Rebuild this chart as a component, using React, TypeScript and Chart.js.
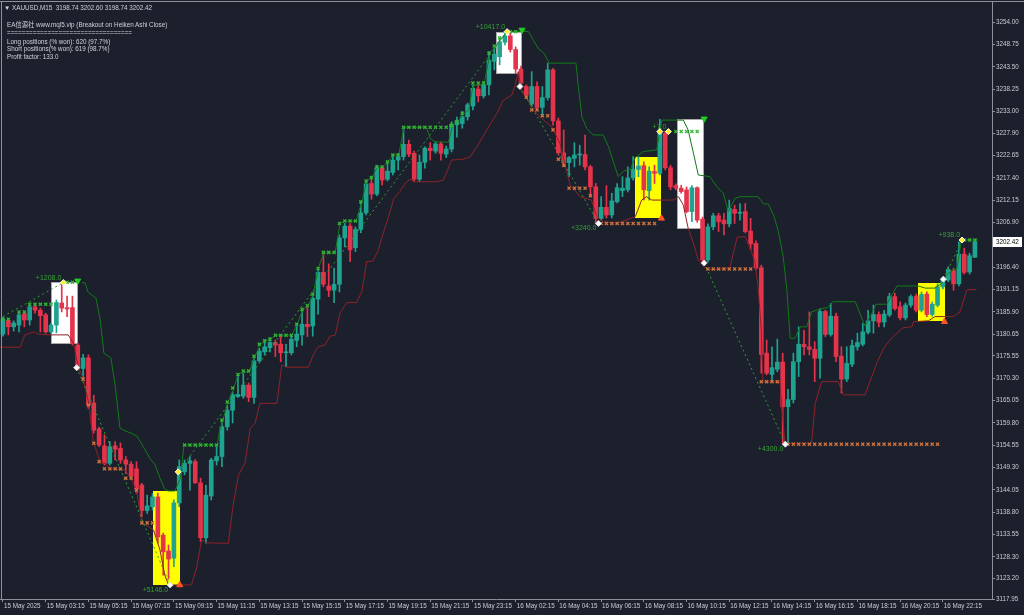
import React, { useEffect, useRef } from "react";
import { Chart, registerables } from "chart.js";
Chart.register(...registerables);

// ---------- price data (M15 bars, XAUUSD) ----------
const OPEN = [3180.7,3183.8,3182.4,3182.8,3185.4,3184.0,3187.1,3186.3,3185.2,3181.2,
 3182.8,3188.0,3186.9,3186.9,3178.1,3172.6,3175.1,3164.5,3158.4,3154.4,
 3150.3,3154.4,3153.8,3151.1,3150.1,3149.0,3145.2,3139.2,3140.1,3142.4,
 3133.4,3129.7,3128.0,3141.0,3148.3,3150.3,3150.7,3145.7,3132.8,3142.6,
 3150.9,3151.9,3158.9,3162.8,3166.0,3166.1,3168.7,3165.8,3174.4,3176.5,
 3177.5,3178.7,3178.3,3176.3,3176.3,3179.2,3180.5,3183.0,3182.6,3188.9,
 3195.2,3192.0,3191.0,3192.4,3203.3,3206.1,3201.0,3205.3,3209.2,3216.1,
 3213.6,3219.8,3217.1,3218.7,3221.6,3222.4,3225.3,3223.2,3217.1,3221.1,
 3224.4,3223.7,3225.4,3223.0,3224.2,3229.9,3230.2,3231.8,3234.3,3238.3,
 3236.7,3239.3,3244.8,3245.9,3249.3,3250.8,3247.6,3243.0,3238.9,3234.8,
 3238.9,3234.0,3236.3,3242.8,3230.8,3223.3,3221.0,3222.0,3222.8,3222.9,
 3220.0,3215.3,3207.9,3210.5,3208.7,3211.8,3214.4,3214.6,3217.4,3219.4,
 3220.3,3214.4,3218.9,3218.5,3227.9,3219.8,3215.6,3215.0,3214.6,3209.5,
 3215.1,3207.7,3198.1,3205.9,3208.5,3207.5,3206.6,3210.0,3209.1,3209.5,
 3204.9,3202.0,3196.3,3176.2,3171.2,3172.4,3174.1,3163.6,3165.3,3174.2,
 3178.3,3177.7,3177.1,3175.0,3186.0,3180.6,3184.9,3175.5,3170.1,3173.6,
 3177.7,3178.3,3181.1,3183.8,3185.3,3183.5,3185.2,3189.5,3187.1,3184.5,
 3187.5,3189.6,3186.3,3190.1,3185.3,3187.5,3191.8,3193.4,3195.6,3192.5,
 3199.5,3195.3,3198.74];
const HIGH = [3184.7,3184.2,3183.8,3185.6,3185.9,3187.5,3187.5,3186.8,3185.6,3183.3,
 3188.7,3192.8,3189.6,3189.6,3178.6,3175.9,3175.8,3166.3,3158.8,3157.0,
 3155.4,3155.4,3155.1,3151.9,3150.7,3150.7,3145.6,3142.8,3143.2,3143.3,
 3133.9,3131.1,3141.7,3151.1,3151.1,3151.9,3151.2,3146.8,3145.2,3151.5,
 3154.2,3160.5,3164.0,3167.1,3171.1,3171.5,3169.2,3175.1,3177.4,3179.3,
 3179.8,3179.3,3180.1,3178.3,3180.2,3182.8,3186.3,3187.1,3190.3,3196.2,
 3199.7,3197.2,3196.2,3204.0,3206.7,3206.7,3205.9,3211.8,3216.7,3217.7,
 3220.4,3220.2,3221.2,3222.8,3223.2,3229.1,3226.3,3223.7,3222.8,3224.7,
 3225.7,3225.9,3225.9,3224.9,3230.6,3231.7,3233.0,3235.0,3239.3,3239.3,
 3240.0,3247.1,3247.9,3250.6,3251.8,3251.4,3248.2,3243.7,3239.3,3242.4,
 3240.0,3238.9,3244.4,3243.2,3231.5,3228.7,3222.4,3225.7,3225.1,3227.5,
 3220.4,3216.1,3213.0,3215.6,3213.8,3216.1,3217.7,3220.0,3222.4,3222.4,
 3221.2,3220.0,3220.4,3231.2,3228.4,3220.4,3216.0,3215.7,3215.3,3215.6,
 3215.3,3208.2,3206.6,3209.1,3209.1,3209.1,3212.2,3211.0,3211.4,3211.4,
 3207.9,3202.6,3196.9,3179.3,3177.7,3179.5,3176.2,3167.7,3176.2,3182.4,
 3181.6,3185.9,3178.9,3186.6,3186.3,3187.9,3185.6,3177.7,3177.7,3179.3,
 3180.9,3183.2,3186.3,3187.5,3185.9,3186.3,3190.3,3190.3,3188.3,3188.0,
 3189.9,3190.1,3190.6,3190.6,3188.2,3192.5,3194.1,3196.5,3196.2,3202.4,
 3200.9,3199.7,3202.60];
const LOW = [3180.2,3180.5,3181.4,3181.2,3182.4,3182.8,3185.6,3181.2,3180.9,3180.9,
 3181.0,3185.9,3184.8,3178.1,3172.2,3170.3,3163.2,3157.4,3154.2,3149.9,
 3149.9,3151.1,3150.3,3147.9,3146.8,3143.2,3137.7,3138.5,3139.3,3131.5,
 3124.0,3123.2,3126.0,3140.1,3147.6,3144.0,3145.6,3131.9,3131.5,3141.7,
 3149.9,3149.5,3158.1,3159.8,3165.8,3165.6,3164.8,3164.4,3174.1,3175.8,
 3176.5,3175.4,3174.2,3173.0,3175.8,3177.7,3178.1,3180.1,3180.2,3185.4,
 3191.8,3189.5,3188.1,3190.6,3201.2,3197.7,3200.1,3204.5,3208.7,3212.4,
 3213.2,3215.7,3216.7,3218.1,3219.3,3221.6,3222.4,3216.5,3216.5,3219.7,
 3221.6,3223.2,3221.6,3222.2,3223.5,3227.0,3229.1,3231.0,3233.4,3235.3,
 3236.2,3236.9,3242.8,3244.0,3248.7,3247.0,3242.0,3238.9,3236.1,3234.1,
 3233.4,3231.8,3235.7,3229.8,3222.8,3220.0,3217.7,3220.0,3220.4,3219.3,
 3213.0,3206.7,3207.5,3208.0,3208.0,3211.5,3213.0,3214.1,3216.9,3217.7,
 3212.2,3212.2,3216.1,3218.1,3219.3,3214.6,3214.6,3213.8,3209.2,3207.1,
 3207.0,3197.6,3197.6,3205.2,3204.8,3204.0,3205.9,3206.7,3207.5,3204.5,
 3200.5,3195.8,3171.5,3171.1,3169.5,3171.8,3155.0,3155.1,3164.5,3170.7,
 3175.8,3175.8,3169.5,3170.3,3180.1,3180.2,3174.2,3166.8,3169.5,3173.0,
 3176.9,3177.9,3180.7,3180.9,3182.4,3182.4,3184.8,3186.3,3184.0,3184.0,
 3187.0,3185.9,3185.9,3184.8,3184.9,3187.1,3191.3,3193.0,3191.0,3192.0,
 3194.8,3194.8,3198.74];
const CLOSE = [3184.2,3182.4,3183.3,3185.2,3184.0,3187.1,3186.3,3185.0,3181.2,3182.8,
 3188.1,3186.8,3186.6,3178.5,3172.6,3175.1,3164.0,3158.1,3154.6,3150.3,
 3154.2,3153.6,3151.1,3150.1,3147.3,3144.3,3139.2,3140.3,3142.4,3133.0,
 3129.5,3127.8,3141.0,3149.5,3150.3,3150.9,3145.7,3132.8,3142.8,3151.1,
 3151.9,3158.9,3162.8,3166.4,3166.5,3168.7,3165.8,3174.4,3176.7,3177.7,
 3178.7,3178.1,3176.3,3176.4,3179.5,3180.7,3183.0,3182.4,3189.1,3195.2,
 3192.4,3191.0,3192.4,3203.3,3206.1,3200.5,3205.3,3209.2,3216.0,3213.6,
 3219.8,3216.9,3219.0,3221.6,3222.4,3225.3,3223.0,3217.1,3221.1,3224.4,
 3223.8,3225.4,3223.2,3224.2,3230.0,3230.8,3231.8,3234.6,3238.5,3236.7,
 3239.3,3245.1,3246.5,3249.4,3250.8,3247.6,3243.0,3239.7,3236.9,3238.9,
 3234.0,3236.3,3242.8,3230.8,3223.3,3221.0,3222.2,3222.8,3222.9,3220.0,
 3215.3,3207.9,3210.5,3208.7,3212.0,3215.1,3215.0,3217.4,3219.4,3220.2,
 3214.6,3219.0,3218.5,3227.9,3219.8,3215.3,3215.0,3214.2,3209.5,3215.1,
 3207.5,3198.1,3205.9,3208.5,3207.1,3206.6,3210.3,3209.1,3209.3,3204.8,
 3201.9,3196.2,3175.9,3171.5,3172.8,3174.1,3163.6,3165.3,3174.2,3178.3,
 3177.7,3177.1,3175.0,3186.0,3180.6,3184.9,3175.4,3170.1,3173.8,3178.0,
 3178.7,3181.2,3183.8,3185.3,3183.5,3185.4,3189.5,3186.7,3184.5,3187.5,
 3189.5,3186.3,3190.0,3185.3,3187.7,3191.8,3193.6,3195.9,3192.5,3199.5,
 3195.2,3199.1,3202.42];

// ---------- axis labels ----------
const X_TICK_INDEX = [0,8,16,24,32,40,48,56,64,72,80,88,96,104,112,120,128,136,144,152,160,168,176];
const X_TICK_LABELS = ["15 May 2025","15 May 03:15","15 May 05:15","15 May 07:15","15 May 09:15","15 May 11:15",
 "15 May 13:15","15 May 15:15","15 May 17:15","15 May 19:15","15 May 21:15","15 May 23:15",
 "16 May 02:15","16 May 04:15","16 May 06:15","16 May 08:15","16 May 10:15","16 May 12:15",
 "16 May 14:15","16 May 16:15","16 May 18:15","16 May 20:15","16 May 22:15"];
const Y_TICK_LABELS = ["3254.00","3248.75","3243.50","3238.25","3233.00","3227.90","3222.65","3217.40",
 "3212.15","3206.90","3201.65","3196.40","3191.15","3185.90","3180.65","3175.55","3170.30","3165.05",
 "3159.80","3154.55","3149.30","3144.05","3138.80","3133.55","3128.30","3123.20","3117.95"];

// ---------- indicator lines [bar index, price] ----------
const UPPER_BAND = [[14.8,3192.8],[15.4,3192.7],[15.9,3190.6],[16.9,3189.6],[17.4,3189.2],[18.2,3184.0],[18.9,3176.2],
 [19.7,3175.5],[20.2,3175.1],[21.0,3168.7],[21.9,3158.6],[22.9,3157.9],[24.0,3157.4],[25.1,3156.7],[26.2,3154.4],
 [27.5,3151.5],[28.5,3149.9],[29.4,3146.8],[30.3,3144.2],[30.9,3143.8],[32.2,3143.8],[33.2,3146.8],[33.9,3154.6],
 [40.1,3154.6],[40.6,3158.1],[41.2,3160.5],[42.1,3164.7],[43.1,3167.5],[44.0,3171.1],[44.9,3171.8],[46.1,3171.8],
 [47.2,3175.4],[48.1,3178.1],[49.1,3179.1],[50.1,3179.5],[51.1,3180.4],[54.1,3180.4],[55.0,3182.8],[56.1,3186.3],
 [57.2,3187.5],[58.1,3190.0],[59.0,3196.1],[60.1,3199.8],[62.2,3199.8],[63.1,3206.7],[64.1,3207.3],[66.1,3207.3],
 [67.2,3211.8],[68.1,3216.7],[69.1,3217.5],[70.1,3220.0],[71.1,3220.0],[72.1,3221.2],[73.1,3222.8],[74.1,3222.8],
 [75.1,3229.3],[79.3,3229.3],[80.0,3226.7],[80.9,3225.9],[83.4,3225.8],[84.2,3229.8],[85.2,3230.6],[86.2,3232.4],
 [87.2,3233.4],[88.0,3239.0],[90.1,3239.5],[91.2,3246.8],[92.3,3248.4],[93.4,3250.3],[94.4,3251.8],[97.1,3251.9],
 [98.4,3251.8],[99.3,3249.8],[100.2,3247.9],[101.3,3246.7],[102.3,3244.4],[107.3,3244.4],[107.7,3239.3],[108.4,3231.8],
 [109.3,3229.1],[110.5,3227.5],[112.4,3227.5],[113.4,3224.7],[114.3,3221.2],[115.2,3217.7],[116.3,3219.1],[117.4,3219.3],
 [118.4,3222.2],[119.9,3223.6],[122.4,3224.0],[123.4,3231.0],[127.4,3231.0],[128.3,3228.7],[129.3,3223.2],[130.2,3218.1],
 [132.4,3217.7],[133.7,3215.3],[134.9,3213.8],[135.8,3209.5],[137.1,3212.6],[138.0,3213.0],[141.4,3213.0],[142.4,3211.3],
 [143.3,3211.3],[144.3,3208.7],[145.2,3204.8],[146.1,3198.9],[146.8,3191.0],[147.4,3179.7],[148.3,3179.7],[149.3,3182.4],
 [150.5,3182.4],[151.4,3185.9],[153.3,3186.7],[154.4,3186.9],[155.4,3188.3],[159.6,3188.3],[161.4,3182.6],[162.4,3184.8],
 [163.5,3187.7],[165.5,3187.7],[167.4,3192.0],[171.4,3192.0],[172.7,3191.5],[174.5,3191.5],[175.8,3192.6],[176.7,3194.6],
 [178.0,3195.9],[178.6,3195.9],[179.5,3202.8],[182.6,3202.8]];
const LOWER_BAND = [[-0.6,3177.6],[3.2,3177.6],[4.1,3180.5],[5.1,3180.9],[5.7,3181.2],[6.6,3180.7],[8.8,3180.5],
 [12.2,3180.5],[13.2,3178.5],[14.1,3173.0],[15.0,3170.3],[16.0,3164.8],[16.9,3155.4],[18.2,3150.7],[19.1,3150.3],
 [20.0,3149.1],[22.9,3148.7],[24.1,3146.4],[25.0,3144.0],[26.0,3136.2],[27.2,3135.4],[28.2,3134.6],[29.4,3129.9],
 [30.3,3124.0],[31.0,3121.7],[35.3,3121.7],[36.3,3126.0],[37.2,3132.3],[38.2,3131.6],[42.2,3131.5],[43.1,3140.5],
 [44.1,3147.5],[45.3,3150.3],[46.3,3158.5],[47.2,3159.7],[48.1,3164.4],[51.3,3164.4],[52.2,3173.4],[53.1,3172.9],
 [57.2,3172.9],[58.1,3175.8],[59.0,3177.7],[60.3,3178.1],[61.2,3180.2],[62.2,3180.4],[63.1,3185.6],[64.4,3188.1],
 [66.2,3188.1],[67.2,3190.7],[68.1,3197.7],[69.3,3197.9],[70.3,3200.5],[71.2,3204.4],[72.2,3208.3],[73.2,3212.6],
 [74.3,3214.2],[75.3,3216.1],[76.2,3217.1],[77.2,3216.5],[81.2,3216.5],[82.5,3216.9],[84.0,3221.6],[86.2,3221.8],
 [87.5,3222.4],[88.7,3224.7],[90.6,3228.7],[92.5,3232.6],[93.7,3235.7],[95.3,3236.9],[95.9,3239.3],[96.5,3242.4],
 [97.1,3237.7],[98.1,3236.1],[99.3,3233.4],[100.9,3231.4],[102.8,3229.4],[104.3,3225.5],[105.2,3220.8],[106.2,3215.7],
 [108.1,3213.0],[110.2,3212.2],[111.2,3208.3],[112.4,3207.1],[114.9,3206.7],[118.4,3208.3],[119.6,3212.2],[120.5,3213.0],
 [121.5,3212.2],[125.5,3212.2],[126.5,3213.0],[127.4,3211.0],[128.3,3205.6],[129.3,3202.0],[130.2,3198.1],[131.5,3196.2],
 [132.8,3195.8],[136.1,3196.2],[136.9,3200.5],[137.5,3203.5],[139.0,3203.6],[139.9,3200.9],[140.8,3197.7],[141.4,3191.8],
 [142.0,3181.6],[142.3,3169.5],[145.5,3169.5],[146.1,3159.7],[146.4,3155.0],[151.4,3155.0],[152.1,3164.4],[153.3,3169.5],
 [156.4,3169.5],[157.4,3166.4],[161.4,3166.4],[162.7,3170.7],[163.6,3173.8],[164.9,3177.3],[165.8,3178.9],[167.4,3180.9],
 [168.6,3182.2],[170.2,3182.4],[170.5,3183.6],[173.3,3183.8],[174.5,3184.8],[178.0,3184.8],[179.2,3185.9],[180.5,3191.1],
 [182.3,3191.2]];

// ---------- trades: [entry index, entry price, exit index, exit price] ----------
const TRADE_LINES = [[0,3184.8,11.3,3192.8],[13.8,3172.8,31.3,3121.7],[32.8,3148.3,94.4,3251.8],
 [96.8,3238.9,111.5,3206.7],[131.3,3197.4,146.5,3154.8],[176.1,3193.6,179.6,3202.8]];
const GREEN_MARKS = [[0,3184.2],[1,3184.2],[3,3185.9],[4,3185.9],[5,3187.7],[6,3187.7],[7,3187.7],[8,3187.7],[9,3187.7],
 [12,3192.9],[13,3192.9],[34,3154.6],[35,3154.6],[36,3154.6],[37,3154.6],[38,3154.6],[39,3154.6],[40,3154.6],
 [41,3160.5],[42,3164.7],[43,3168.0],[44,3171.2],[45,3172.0],[46,3172.0],[47,3175.5],[48,3178.3],[49,3179.1],[50,3179.5],
 [51,3180.4],[52,3180.4],[53,3180.4],[54,3180.4],[55,3183.0],[56,3186.5],[57,3187.4],[58,3190.1],[59,3196.1],
 [60,3199.9],[61,3199.9],[62,3199.9],[63,3206.7],[64,3207.3],[65,3207.3],[66,3207.3],[67,3211.8],[68,3216.7],[69,3217.5],
 [70,3220.0],[71,3220.0],[72,3221.2],[73,3222.8],[74,3222.8],[75,3229.3],[76,3229.3],[77,3229.3],[78,3229.3],[79,3229.3],
 [80,3229.3],[81,3229.3],[82,3229.3],[83,3229.3],[84,3229.8],[85,3230.6],[86,3232.6],[88,3239.7],[89,3239.7],[90,3239.7],
 [91,3246.7],[92,3248.4],[93,3250.3],[95,3251.8],[96,3251.8],[126,3228.3],[127,3228.3],[128,3228.3],[129,3228.3],[130,3228.3],
 [180,3202.8],[181,3202.8],[182,3202.8]];
const ORANGE_MARKS = [[15,3170.1],[16,3164.0],[17,3155.0],[18,3150.7],[19,3149.0],[20,3149.0],[21,3149.0],[22,3149.0],
 [23,3146.8],[24,3146.8],[25,3144.0],[26,3136.3],[27,3136.3],[28,3136.3],
 [98,3236.4],[99,3233.4],[100,3233.4],[101,3232.0],[102,3232.0],[103,3228.7],[104,3221.8],[105,3220.4],[106,3215.0],
 [107,3215.0],[108,3215.0],[109,3215.0],[110,3213.2],[112,3206.7],[113,3206.7],[114,3206.7],[115,3206.7],[116,3206.7],
 [117,3206.7],[118,3206.7],[119,3206.7],[120,3206.7],[121,3206.7],[122,3206.7],
 [132,3196.0],[133,3196.0],[134,3196.0],[135,3196.0],[136,3196.0],[137,3196.0],[138,3196.0],[139,3196.0],[140,3196.0],
 [142,3169.5],[143,3169.5],[144,3169.5],[145,3169.5],
 [147,3154.8],[148,3154.8],[149,3154.8],[150,3154.8],[151,3154.8],[152,3154.8],[153,3154.8],[154,3154.8],[155,3154.8],
 [156,3154.8],[157,3154.8],[158,3154.8],[159,3154.8],[160,3154.8],[161,3154.8],[162,3154.8],[163,3154.8],[164,3154.8],
 [165,3154.8],[166,3154.8],[167,3154.8],[168,3154.8],[169,3154.8],[170,3154.8],[171,3154.8],[172,3154.8],[173,3154.8],
 [174,3154.8],[175,3154.8]];
const WHITE_DIAMONDS = [[13.8,3172.8],[31.3,3121.7],[96.8,3238.9],[111.5,3206.7],[131.3,3197.4],[146.5,3154.8],[176.1,3193.6]];
const YELLOW_DIAMONDS = [[11.3,3192.8],[32.8,3148.3],[94.4,3251.8],[123.0,3228.3],[124.6,3228.3],[179.6,3202.8]];
const DOWN_ARROWS = [[14.0,3193.2],[97.2,3252.2],[131.3,3231.3]];
const UP_ARROWS = [[33.1,3121.7],[123.3,3207.9],[176.3,3183.6]];
const PROFIT_TEXT = ["+1208.0","+5146.0","+10417.0","+3240.0","+7.0","+4300.0","+938.0"];
const PROFIT_INDEX = [11.3,31.3,94.4,111.5,124.6,146.5,179.6];
const PROFIT_PRICE = [3192.8,3121.7,3251.8,3206.7,3228.3,3154.8,3202.8];
const PROFIT_BELOW = [false,true,false,true,false,true,false];

// ---------- highlighted boxes ----------
const BOX_X0 = [9.0,28.1,92.3,118.4,126.3,171.4];
const BOX_X1 = [14.0,33.15,97.25,123.2,131.3,176.4];
const BOX_TOP = [3192.9,3143.8,3251.8,3222.4,3231.2,3192.6];
const BOX_BOTTOM = [3178.4,3121.7,3241.8,3208.1,3205.5,3183.8];
const BOX_KIND = ["white","yellow","white","yellow","white","yellow"];

const BG = "#1c202d";
const TEAL = "#1fa391";
const RED = "#e5334b";
const AXIS = "#8d919a";
const TEXT = "#c9ccd2";
const X_MIN = -0.56, X_MAX = 185.2;
const Y_MIN = 3118.4, Y_MAX = 3258.77;

const overlay = {
  id: "overlay",
  beforeDraw(chart: any) {
    const { ctx, width, height } = chart;
    ctx.save();
    ctx.fillStyle = BG;
    ctx.fillRect(0, 0, width, height);
    ctx.restore();
  },
  beforeDatasetsDraw(chart: any) {
    const { ctx } = chart;
    const xs = chart.scales.x, ys = chart.scales.y;
    ctx.save();
    for (let i = 0; i < BOX_X0.length; i++) {
      const x0 = Math.round(xs.getPixelForValue(BOX_X0[i]));
      const x1 = Math.round(xs.getPixelForValue(BOX_X1[i]));
      const y0 = Math.round(ys.getPixelForValue(BOX_TOP[i]));
      const y1 = Math.round(ys.getPixelForValue(BOX_BOTTOM[i]));
      ctx.fillStyle = BOX_KIND[i] === "white" ? "#ffffff" : "#ffff00";
      ctx.fillRect(x0, y0, x1 - x0, y1 - y0);
      if (BOX_KIND[i] === "white") {
        ctx.strokeStyle = "#a8a8a8";
        ctx.lineWidth = 1;
        ctx.strokeRect(x0 + 0.5, y0 + 0.5, x1 - x0 - 1, y1 - y0 - 1);
      }
    }
    ctx.restore();
  },
  afterDatasetsDraw(chart: any) {
    const { ctx } = chart;
    const xs = chart.scales.x, ys = chart.scales.y;
    ctx.save();
    ctx.font = '7px "Liberation Sans", Arial, sans-serif';
    ctx.fillStyle = "#35a035";
    ctx.textAlign = "right";
    ctx.textBaseline = "middle";
    for (let i = 0; i < PROFIT_TEXT.length; i++) {
      const px = xs.getPixelForValue(PROFIT_INDEX[i]) - 2;
      const py = ys.getPixelForValue(PROFIT_PRICE[i]) + (PROFIT_BELOW[i] ? 5 : -5);
      ctx.fillText(PROFIT_TEXT[i], px, py);
    }
    ctx.restore();
  },
  afterDraw(chart: any) {
    const { ctx, width } = chart;
    const ys = chart.scales.y;
    ctx.save();
    ctx.strokeStyle = AXIS;
    ctx.lineWidth = 1;
    ctx.beginPath();
    ctx.moveTo(0, 1.5); ctx.lineTo(width, 1.5);
    ctx.moveTo(1.5, 1.5); ctx.lineTo(1.5, chart.chartArea.bottom);
    ctx.stroke();
    const last = CLOSE[CLOSE.length - 1];
    const py = Math.round(ys.getPixelForValue(last));
    ctx.fillStyle = "#ffffff";
    ctx.fillRect(993, py - 5, 29, 10);
    ctx.fillStyle = "#000000";
    ctx.font = '6.3px "Liberation Sans", Arial, sans-serif';
    ctx.textBaseline = "middle";
    ctx.textAlign = "left";
    ctx.fillText(last.toFixed(2), 996, py + 0.5);
    ctx.restore();
  },
};

function pts(list: number[][]) {
  return list.map((p) => ({ x: p[0], y: p[1] }));
}

export default function App() {
  const ref = useRef<HTMLCanvasElement>(null);
  useEffect(() => {
    const canvas = ref.current;
    if (!canvas) return;
    const idx = CLOSE.map((_, i) => i);
    const colors = idx.map((i) => (CLOSE[i] >= OPEN[i] ? TEAL : RED));
    const datasets: any[] = [
      { type: "bar", data: idx.map((i) => ({ x: i, y: [LOW[i], HIGH[i]] })), backgroundColor: colors,
        barThickness: 1, grouped: false, order: 10 },
      { type: "bar", data: idx.map((i) => ({ x: i, y: [OPEN[i], CLOSE[i]] })), backgroundColor: colors,
        barThickness: 4, minBarLength: 1, grouped: false, order: 9 },
      { type: "line", data: pts(UPPER_BAND), borderColor: "#127a18", borderWidth: 1, pointRadius: 0, pointHoverRadius: 0, tension: 0, order: 6 },
      { type: "line", data: pts(LOWER_BAND), borderColor: "#8e2229", borderWidth: 1, pointRadius: 0, pointHoverRadius: 0, tension: 0, order: 6 },
    ];
    TRADE_LINES.forEach((t) => {
      datasets.push({ type: "line", data: [{ x: t[0], y: t[1] }, { x: t[2], y: t[3] }], borderColor: "#2f9e34",
        borderWidth: 1, borderDash: [2, 3], pointRadius: 0, pointHoverRadius: 0, order: 5 });
    });
    datasets.push(
      { type: "scatter", data: pts(GREEN_MARKS), pointStyle: "crossRot", pointRadius: 2.2, pointBorderWidth: 1.3,
        pointBorderColor: "#35b535", pointBackgroundColor: "#35b535", order: 3 },
      { type: "scatter", data: pts(ORANGE_MARKS), pointStyle: "crossRot", pointRadius: 2.2, pointBorderWidth: 1.3,
        pointBorderColor: "#d2733d", pointBackgroundColor: "#d2733d", order: 3 },
      { type: "scatter", data: pts(WHITE_DIAMONDS), pointStyle: "rectRot", pointRadius: 3, pointBorderWidth: 1,
        pointBorderColor: "#d8d8d8", pointBackgroundColor: "#ffffff", order: 1 },
      { type: "scatter", data: pts(YELLOW_DIAMONDS), pointStyle: "rectRot", pointRadius: 3, pointBorderWidth: 1,
        pointBorderColor: "#ffffff", pointBackgroundColor: "#ffee22", order: 1 },
      { type: "scatter", data: pts(DOWN_ARROWS), pointStyle: "triangle", rotation: 180, pointRadius: 3.5, pointBorderWidth: 1,
        pointBorderColor: "#22cc22", pointBackgroundColor: "#22cc22", order: 1 },
      { type: "scatter", data: pts(UP_ARROWS), pointStyle: "triangle", rotation: 0, pointRadius: 3.5, pointBorderWidth: 1,
        pointBorderColor: "#ff5520", pointBackgroundColor: "#ff5520", order: 1 },
    );
    const font = { family: '"Liberation Sans", Arial, sans-serif', size: 6.3 };
    const chart = new Chart(canvas, {
      type: "bar",
      data: { datasets },
      options: {
        animation: false,
        responsive: false,
        maintainAspectRatio: false,
        events: [],
        layout: { autoPadding: false, padding: { top: 2, left: 0, right: 0, bottom: 0 } },
        plugins: { legend: { display: false }, tooltip: { enabled: false } },
        scales: {
          x: {
            type: "linear", min: X_MIN, max: X_MAX, offset: false, position: "bottom",
            grid: { display: true, drawOnChartArea: false, drawTicks: true, tickLength: 3, color: AXIS, offset: false },
            border: { display: true, color: AXIS, width: 1 },
            ticks: { autoSkip: false, maxRotation: 0, minRotation: 0, align: "start", padding: 0, labelOffset: 1,
              color: TEXT, font, callback: (_v: any, i: number) => X_TICK_LABELS[i] },
            afterBuildTicks: (s: any) => { s.ticks = X_TICK_INDEX.map((v) => ({ value: v })); },
            afterFit: (s: any) => { s.height = 16; s.paddingLeft = 0; s.paddingRight = 0; },
          },
          y: {
            type: "linear", position: "right", min: Y_MIN, max: Y_MAX,
            grid: { display: true, drawOnChartArea: false, drawTicks: true, tickLength: 3, color: AXIS },
            border: { display: true, color: AXIS, width: 1 },
            ticks: { autoSkip: false, padding: 1, color: TEXT, font, callback: (_v: any, i: number) => Y_TICK_LABELS[i] },
            afterBuildTicks: (s: any) => { s.ticks = Y_TICK_LABELS.map((l) => ({ value: Math.max(parseFloat(l), Y_MIN) })); },
            afterFit: (s: any) => { s.width = 32; s.paddingTop = 0; s.paddingBottom = 0; },
          },
        },
      } as any,
      plugins: [overlay],
    });
    return () => chart.destroy();
  }, []);

  const hdr: React.CSSProperties = {
    position: "absolute", left: 7, whiteSpace: "pre", color: "#cfd2d6",
    font: '6.3px "Liberation Sans", "Noto Sans CJK SC", Arial, sans-serif', lineHeight: "8px",
  };
  return (
    <div style={{ position: "fixed", left: 0, top: 0, width: 1024, height: 615, overflow: "hidden", background: BG }}>
      <canvas ref={ref} width={1024} height={615} style={{ display: "block" }} />
      <div style={{ ...hdr, left: 4, top: 3.5 }}>{"▼ XAUUSD,M15  3198.74 3202.60 3198.74 3202.42"}</div>
      <div style={{ ...hdr, top: 21 }}>{"EA信源社 www.mql5.vip (Breakout on Heiken Ashi Close)"}</div>
      <div style={{ ...hdr, top: 29 }}>{"=================================="}</div>
      <div style={{ ...hdr, top: 37.7 }}>{"Long positions (% won): 620 (97.7%)"}</div>
      <div style={{ ...hdr, top: 45.3 }}>{"Short positions(% won): 619 (98.7%)"}</div>
      <div style={{ ...hdr, top: 53 }}>{"Profit factor: 133.0"}</div>
    </div>
  );
}
